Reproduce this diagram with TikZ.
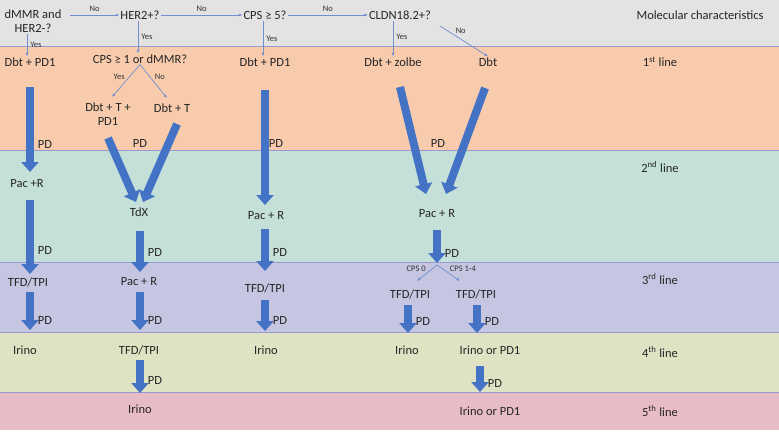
\documentclass[tikz,border=0pt]{standalone}
\usepackage{fontspec}
\setmainfont{Carlito}
\usetikzlibrary{arrows.meta}
\definecolor{ab}{HTML}{4472C4}
\definecolor{tb}{HTML}{6F8FCF}
\tikzset{
 fat/.style={ab,line width=8pt,-{Triangle[width=17pt,length=10pt]},shorten <=0pt},
 thin/.style={tb,line width=0.7pt,-{Latex[length=3.5pt,width=3pt]}},
 lbl/.style={font=\fontsize{12.5}{14}\selectfont,inner sep=1pt,align=center,text=black!85},
 sm/.style={font=\fontsize{8.5}{10}\selectfont,inner sep=1pt,text=black!80},
 band/.style={draw=black!45!blue!40,line width=0.6pt}
}
\begin{document}
\begin{tikzpicture}[x=1pt,y=-1pt]
\useasboundingbox (0,0) rectangle (779,432);
\fill[gray!22] (0,0) rectangle (779,46);
\fill[fill={rgb,255:red,248;green,203;blue,173}] (0,46) rectangle (779,150);
\fill[fill={rgb,255:red,197;green,224;blue,216}] (0,150) rectangle (779,262);
\fill[fill={rgb,255:red,198;green,198;blue,226}] (0,262) rectangle (779,332);
\fill[fill={rgb,255:red,224;green,226;blue,196}] (0,332) rectangle (779,392);
\fill[fill={rgb,255:red,232;green,188;blue,198}] (0,392) rectangle (779,430);
\foreach \y in {46,150,262,332,392} \draw[band] (0,\y) -- (779,\y);
% top row
\node[lbl] (q1) at (33,21) {dMMR and\\HER2-?};
\node[lbl] (q2) at (140,15) {HER2+?};
\node[lbl] (q3) at (265,15) {CPS ≥ 5?};
\node[lbl] (q4) at (400,15) {CLDN18.2+?};
\node[lbl] (mc) at (700,15) {Molecular characteristics};
\draw[thin] (70,15) -- node[sm,above=2pt]{No} (q2.west);
\draw[thin] (q2.east) -- node[sm,above=2pt]{No} (q3.west);
\draw[thin] (q3.east) -- node[sm,above=2pt]{No} (q4.west);
% row 1
\node[lbl] (a1) at (30,62) {Dbt + PD1};
\node[lbl] (b1) at (140,59) {CPS ≥ 1 or dMMR?};
\node[lbl] (c1) at (265,62) {Dbt + PD1};
\node[lbl] (d1) at (393,62) {Dbt + zolbe};
\node[lbl] (e1) at (488,62) {Dbt};
\node[lbl] at (660,62) {1\textsuperscript{st} line};
\draw[thin] (27,34) -- node[sm,right=2pt]{Yes} (a1.north-|27,0);
\draw[thin] (q2.south-|138,0) -- node[sm,right=2pt]{Yes} (b1.north-|138,0);
\draw[thin] (q3.south-|263,0) -- node[sm,right=2pt]{Yes} (c1.north-|263,0);
\draw[thin] (q4.south-|393,0) -- node[sm,right=2pt,pos=0.45]{Yes} (d1.north);
\draw[thin] (440,26) -- node[sm,above right=0pt,pos=0.3]{No} (e1.north);
\node[lbl] (b2) at (108,114) {Dbt + T +\\PD1};
\node[lbl] (b3) at (172,108) {Dbt + T};
\draw[thin] (b1.south) -- node[sm,above left=0pt]{Yes} (112,97);
\draw[thin] (b1.south) -- node[sm,above right=0pt]{No} (167,98);
% second line nodes
\node[lbl] (a2) at (27,184) {Pac +R};
\node[lbl] (b4) at (139,212) {TdX};
\node[lbl] (c2) at (266,216) {Pac + R};
\node[lbl] (d2) at (437,214) {Pac + R};
\node[lbl] at (660,167) {2\textsuperscript{nd} line};
\draw[fat] (30,87) -- (30,172);
\draw[fat] (108,138) -- (136,202);
\draw[fat] (177,124) -- (143,202);
\draw[fat] (265,90) -- (265,205);
\draw[fat] (400,87) -- (426,194);
\draw[fat] (485,88) -- (446,194);
\foreach \p in {(45,144),(140,143),(276,143),(438,143)} \node[lbl] at \p {PD};
% third line
\node[lbl] (a3) at (28,282) {TFD/TPI};
\node[lbl] (b5) at (139,282) {Pac + R};
\node[lbl] (c3) at (265,288) {TFD/TPI};
\node[lbl] (d3) at (410,294) {TFD/TPI};
\node[lbl] (e3) at (476,294) {TFD/TPI};
\node[lbl] at (660,279) {3\textsuperscript{rd} line};
\draw[fat] (30,200) -- (30,274); \node[lbl] at (45,250) {PD};
\draw[fat] (140,231) -- (140,272); \node[lbl] at (155,252) {PD};
\draw[fat] (265,229) -- (265,271); \node[lbl] at (280,252) {PD};
\draw[fat] (437,230) -- (437,263); \node[lbl] at (452,253) {PD};
\coordinate (sp) at (437,265);
\draw[thin] (sp) -- node[sm,above left=0pt]{CPS 0} (417,281);
\draw[thin] (sp) -- node[sm,above right=0pt]{CPS 1-4} (460,281);
% fourth line
\node[lbl] (a4) at (25,350) {Irino};
\node[lbl] (b6) at (139,350) {TFD/TPI};
\node[lbl] (c4) at (266,350) {Irino};
\node[lbl] (d4) at (407,350) {Irino};
\node[lbl] (e4) at (490,350) {Irino or PD1};
\node[lbl] at (660,352) {4\textsuperscript{th} line};
\draw[fat] (30,292) -- (30,330); \node[lbl] at (45,320) {PD};
\draw[fat] (140,292) -- (140,330); \node[lbl] at (155,320) {PD};
\draw[fat] (265,300) -- (265,331); \node[lbl] at (280,320) {PD};
\draw[fat] (408,305) -- (408,333); \node[lbl] at (423,321) {PD};
\draw[fat] (477,305) -- (477,333); \node[lbl] at (492,321) {PD};
% fifth line
\node[lbl] (b7) at (140,409) {Irino};
\node[lbl] (e5) at (490,411) {Irino or PD1};
\node[lbl] at (660,411) {5\textsuperscript{th} line};
\draw[fat] (140,360) -- (140,393); \node[lbl] at (155,380) {PD};
\draw[fat] (480,366) -- (480,392); \node[lbl] at (495,383) {PD};
\end{tikzpicture}
\end{document}
